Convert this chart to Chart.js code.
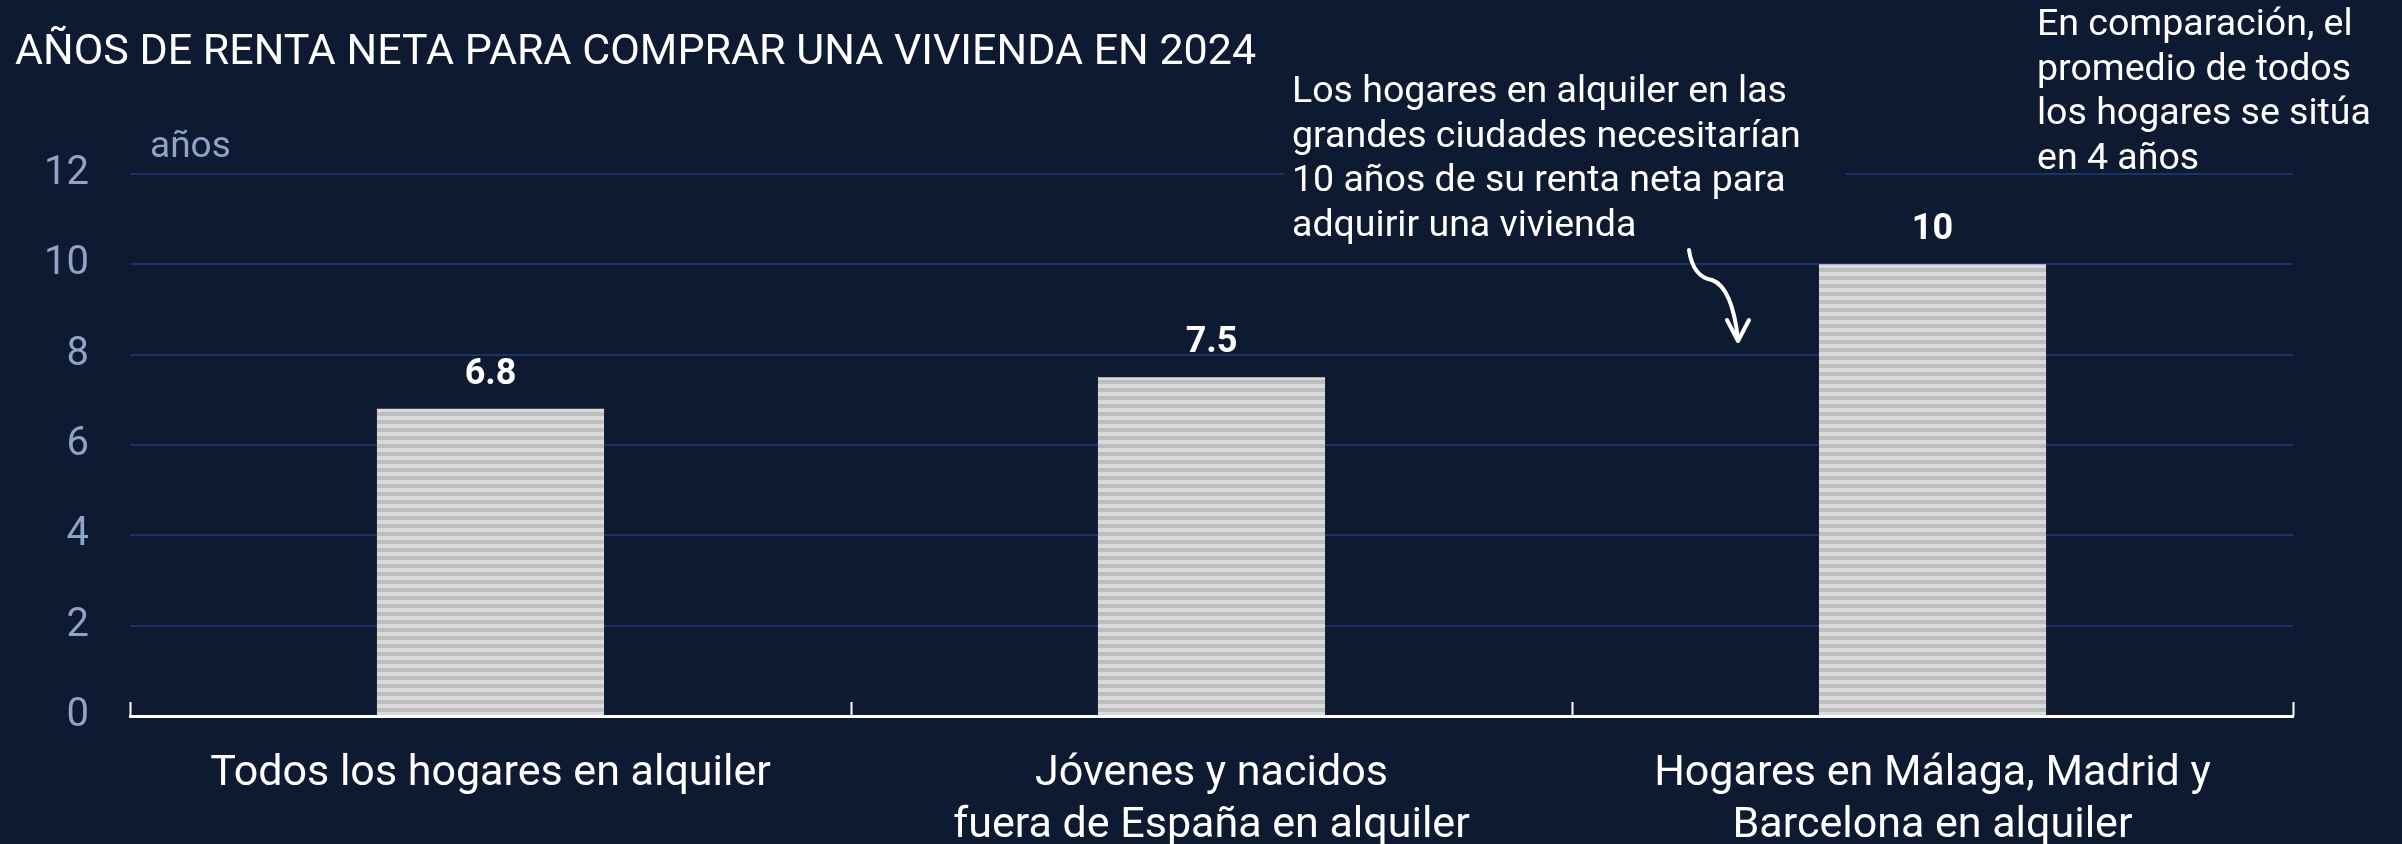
<!DOCTYPE html>
<html>
<head>
<meta charset="utf-8">
<script src="https://cdn.jsdelivr.net/npm/chart.js@4.4.1/dist/chart.umd.min.js"></script>
<style>
  html, body { margin: 0; padding: 0; background: #0e1a31; }
  #wrap { width: 2402px; height: 844px; position: relative; }
</style>
</head>
<body>
<div id="wrap"><canvas id="rentaBar"></canvas></div>
<script>
const categories = [
  ["Todos los hogares en alquiler"],
  ["Jóvenes y nacidos", "fuera de España en alquiler"],
  ["Hogares en Málaga, Madrid y", "Barcelona en alquiler"],
];
const yearsValues = [6.8, 7.5, 10];
const yTicks = [0, 2, 4, 6, 8, 10, 12];

const titleText = "AÑOS DE RENTA NETA PARA COMPRAR UNA VIVIENDA EN 2024";
const unitText = "años";
const noteCities = [
  "Los hogares en alquiler en las",
  "grandes ciudades necesitarían",
  "10 años de su renta neta para",
  "adquirir una vivienda",
];
const noteAverage = [
  "En comparación, el",
  "promedio de todos",
  "los hogares se sitúa",
  "en 4 años",
];

const BG = "#0e1a31";
const TICK_COLOR = "#8fa3c6";

// striped fill like the original bars
function stripePattern() {
  const c = document.createElement("canvas");
  c.width = 8;
  c.height = 8;
  const g = c.getContext("2d");
  g.fillStyle = "#dadada";
  g.fillRect(0, 0, 8, 4);
  g.fillStyle = "#bebebe";
  g.fillRect(0, 4, 8, 4);
  return g.createPattern(c, "repeat");
}

const textPlugin = {
  id: "textPlugin",
  afterDatasetsDraw(chart) {
    const ctx = chart.ctx;
    const meta = chart.getDatasetMeta(0);
    ctx.save();
    ctx.fillStyle = "#ffffff";
    ctx.font = "bold 36px Roboto";
    ctx.textAlign = "center";
    ctx.textBaseline = "middle";
    meta.data.forEach((bar, i) => {
      ctx.fillText(String(yearsValues[i]), bar.x, bar.y - 34);
    });
    ctx.restore();
  },
  afterDraw(chart) {
    const ctx = chart.ctx;
    const area = chart.chartArea;
    const x = chart.scales.x;
    ctx.save();

    // small upward ticks on the category boundaries
    ctx.strokeStyle = "#ffffff";
    ctx.lineWidth = 2;
    const half = (x.getPixelForValue(1) - x.getPixelForValue(0)) / 2;
    const edges = [x.getPixelForValue(0) - half];
    categories.forEach((c, i) => edges.push(x.getPixelForValue(i) + half));
    edges.forEach((px) => {
      ctx.beginPath();
      ctx.moveTo(Math.round(px) + 0.5, area.bottom);
      ctx.lineTo(Math.round(px) + 0.5, area.bottom - 14);
      ctx.stroke();
    });

    // title
    ctx.fillStyle = "#ffffff";
    ctx.textAlign = "left";
    ctx.textBaseline = "alphabetic";
    ctx.font = "43px Roboto";
    ctx.fillText(titleText, 15, 64);

    // unit
    ctx.fillStyle = TICK_COLOR;
    ctx.font = "37px Roboto";
    ctx.textBaseline = "middle";
    ctx.fillText(unitText, 150, 148);

    // annotation boxes
    ctx.fillStyle = BG;
    ctx.fillRect(1284, 66, 562, 182);
    ctx.fillStyle = "#ffffff";
    ctx.font = "37.5px Roboto";
    noteCities.forEach((t, i) => ctx.fillText(t, 1292, 93 + i * 44.5));
    noteAverage.forEach((t, i) => ctx.fillText(t, 2037, 26 + i * 44.5));

    // curved arrow
    ctx.strokeStyle = "#ffffff";
    ctx.lineWidth = 4;
    ctx.lineCap = "round";
    ctx.lineJoin = "round";
    ctx.beginPath();
    ctx.moveTo(1689, 250);
    ctx.quadraticCurveTo(1693, 277, 1712, 280);
    ctx.quadraticCurveTo(1732, 287, 1738, 339);
    ctx.stroke();
    ctx.beginPath();
    ctx.moveTo(1727, 320);
    ctx.lineTo(1738, 341);
    ctx.lineTo(1749, 320);
    ctx.stroke();
    ctx.restore();
  },
};

const ctxBar = document.getElementById("rentaBar");
const configBar = {
  type: "bar",
  data: {
    labels: categories,
    datasets: [
      {
        label: "años",
        data: yearsValues,
        backgroundColor: stripePattern(),
        borderWidth: 0,
        barPercentage: 0.315,
        categoryPercentage: 1,
      },
    ],
  },
  options: {
    responsive: true,
    maintainAspectRatio: false,
    animation: false,
    layout: {
      padding: { left: 15, right: 109, top: 174, bottom: 0 },
    },
    plugins: {
      legend: { display: false },
      tooltip: { enabled: false },
    },
    scales: {
      x: {
        grid: { display: false, drawTicks: false },
        border: { display: true, color: "#ffffff", width: 3 },
        ticks: {
          color: "#ffffff",
          font: { family: "Roboto", size: 43, lineHeight: 1.21 },
          padding: 32,
          maxRotation: 0,
        },
        afterFit(scale) {
          scale.height = 128;
        },
      },
      y: {
        min: 0,
        max: 12,
        afterBuildTicks(scale) {
          scale.ticks = yTicks.map((v) => ({ value: v }));
        },
        grid: {
          color: (c) => (c.tick && c.tick.value === 0 ? "rgba(0,0,0,0)" : "#1b3266"),
          lineWidth: 2,
          drawTicks: false,
        },
        border: { display: false },
        ticks: {
          color: TICK_COLOR,
          font: { family: "Roboto", size: 40 },
          padding: 41,
        },
        afterFit(scale) {
          scale.width = 115;
        },
      },
    },
  },
  plugins: [textPlugin],
};

new Chart(ctxBar, configBar);
</script>
</body>
</html>
